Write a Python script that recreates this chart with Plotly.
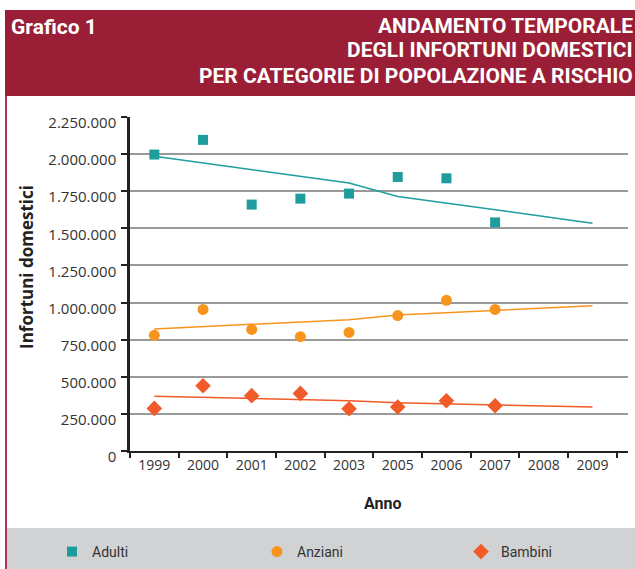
import plotly.graph_objects as go

# ---- data ----
years = ["1999", "2000", "2001", "2002", "2003", "2005", "2006", "2007", "2008", "2009"]
obs_years = ["1999", "2000", "2001", "2002", "2003", "2005", "2006", "2007"]

adulti = [1997000, 2096000, 1660000, 1700000, 1734000, 1846000, 1837000, 1540000]
anziani = [779000, 954000, 819000, 770000, 799000, 912000, 1015000, 954000]
bambini = [287000, 440000, 373000, 388000, 285000, 296000, 339000, 305000]

adulti_trend = [1985000, 1940000, 1895000, 1850000, 1805000, 1715000, 1670000, 1625000, 1580000, 1535000]
anziani_trend = [822000, 838000, 853000, 869000, 885000, 916000, 932000, 948000, 963000, 979000]
bambini_trend = [368000, 361000, 354000, 346000, 339000, 325000, 318000, 310000, 303000, 296000]

y_tickvals = [0, 250000, 500000, 750000, 1000000, 1250000, 1500000, 1750000, 2000000, 2250000]
y_ticktext = ["0", "250.000", "500.000", "750.000", "1.000.000", "1.250.000",
              "1.500.000", "1.750.000", "2.000.000", "2.250.000"]

series_names = ["Adulti", "Anziani", "Bambini"]

# ---- style ----
W, H = 635, 569
L, R, T, B = 130, 7, 117, 118
PW, PH = W - L - R, H - T - B

def px(x):
    return (x - L) / PW

def py(y):
    return (H - B - y) / PH

def cx(x):
    return x / W

def cy(y):
    return 1 - y / H

TEAL = "#1f9d9e"
ORANGE = "#f7941d"
RED = "#f15a29"
HEADER = "#9b1e37"
HFONT = "Roboto, sans-serif"
TICKFONT = "Open Sans, Noto Sans, sans-serif"

fig = go.Figure()

for trend, col in [(adulti_trend, TEAL), (anziani_trend, ORANGE), (bambini_trend, RED)]:
    fig.add_trace(go.Scatter(x=years, y=trend, mode="lines",
                             line=dict(color=col, width=1.5), showlegend=False,
                             hoverinfo="skip"))

legend_ids = ["legend", "legend2", "legend3"]
for name, vals, col, sym, size, lg in [
    (series_names[0], adulti, TEAL, "square", 10, legend_ids[0]),
    (series_names[1], anziani, ORANGE, "circle", 11, legend_ids[1]),
    (series_names[2], bambini, RED, "diamond", 12, legend_ids[2]),
]:
    fig.add_trace(go.Scatter(x=obs_years, y=vals, mode="markers", name=name, legend=lg,
                             marker=dict(color=col, symbol=sym, size=size,
                                         line=dict(width=0))))

shapes = [
    dict(type="rect", xref="paper", yref="paper", x0=px(5), x1=px(636),
         y0=py(96), y1=py(10), fillcolor=HEADER, line=dict(width=0), layer="below"),
    dict(type="line", xref="paper", yref="paper", x0=px(6), x1=px(6),
         y0=py(96), y1=py(570), line=dict(color="#b03350", width=2)),
    dict(type="rect", xref="paper", yref="paper", x0=px(7), x1=px(636),
         y0=py(570), y1=py(528), fillcolor="#d1d2d4", line=dict(width=0), layer="below"),
]

annotations = [
    dict(text="<b>Grafico 1</b>", xref="paper", yref="paper", x=px(9), y=py(27),
         xanchor="left", yanchor="middle", showarrow=False,
         font=dict(family=HFONT, size=21, color="white")),
    dict(text="<b>ANDAMENTO TEMPORALE</b>", xref="paper", yref="paper", x=px(635), y=py(26),
         xanchor="right", yanchor="middle", showarrow=False,
         font=dict(family=HFONT, size=21, color="white")),
    dict(text="<b>DEGLI INFORTUNI DOMESTICI</b>", xref="paper", yref="paper", x=px(635), y=py(50.5),
         xanchor="right", yanchor="middle", showarrow=False,
         font=dict(family=HFONT, size=21, color="white")),
    dict(text="<b>PER CATEGORIE DI POPOLAZIONE A RISCHIO</b>", xref="paper", yref="paper", x=px(635), y=py(75.5),
         xanchor="right", yanchor="middle", showarrow=False,
         font=dict(family=HFONT, size=21, color="white")),
    dict(text="<b>Infortuni domestici</b>", xref="paper", yref="paper", x=px(26), y=py(267),
         xanchor="center", yanchor="middle", textangle=-90, showarrow=False,
         font=dict(family=TICKFONT, size=17, color="#222")),
    dict(text="<b>Anno</b>", xref="paper", yref="paper", x=px(382), y=py(503),
         xanchor="center", yanchor="middle", showarrow=False,
         font=dict(family=HFONT, size=16, color="#222")),
]

legend_common = dict(orientation="h", xanchor="left", yanchor="middle",
                     xref="container", yref="container",
                     itemwidth=30, bgcolor="rgba(0,0,0,0)",
                     font=dict(family=HFONT, size=14, color="#333"))

fig.update_layout(
    width=W, height=H,
    margin=dict(l=L, r=R, t=T, b=B, pad=0),
    paper_bgcolor="white", plot_bgcolor="white",
    shapes=shapes, annotations=annotations,
    showlegend=True,
    legend=dict(x=cx(52), y=cy(552), **legend_common),
    legend2=dict(x=cx(257), y=cy(552), **legend_common),
    legend3=dict(x=cx(461), y=cy(552), **legend_common),
    xaxis=dict(type="category", categoryorder="array", categoryarray=years,
               range=[-0.5, len(years) - 0.27], tickson="boundaries",
               ticks="outside", ticklen=5, tickwidth=1.5, tickcolor="#222",
               showline=True, linecolor="#222", linewidth=2,
               showgrid=False, zeroline=False,
               tickfont=dict(family=TICKFONT, size=14, color="#333")),
    yaxis=dict(range=[0, 2250000], tickvals=y_tickvals, ticktext=y_ticktext,
               ticks="outside", ticklen=6, tickwidth=1.5, tickcolor="#222",
               ticklabelstandoff=2, ticklabelshift=6,
               showline=True, linecolor="#222", linewidth=2.5,
               showgrid=True, gridcolor="#9a9a9a", gridwidth=1.5, zeroline=False,
               tickfont=dict(family=TICKFONT, size=15, color="#333")),
)

fig.write_html("out.html", config={"displayModeBar": False},
               post_script="document.body.style.margin='0px';")
